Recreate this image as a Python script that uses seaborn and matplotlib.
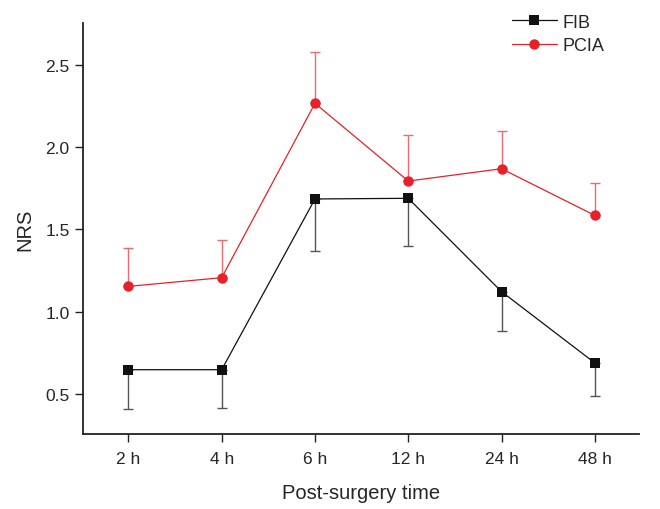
import matplotlib
matplotlib.use("Agg")
import matplotlib.pyplot as plt
import seaborn as sns
import pandas as pd

# values
times = ["2 h", "4 h", "6 h", "12 h", "24 h", "48 h"]
fib_mean = [0.646, 0.646, 1.685, 1.689, 1.121, 0.687]
fib_err = [0.241, 0.235, 0.317, 0.29, 0.241, 0.203]
pcia_mean = [1.153, 1.206, 2.267, 1.794, 1.869, 1.585]
pcia_err = [0.234, 0.231, 0.312, 0.28, 0.231, 0.199]

sns.set_theme(style="ticks")
plt.rcParams["font.family"] = ["Liberation Sans", "DejaVu Sans"]

df = pd.DataFrame({
    "time": times * 2,
    "NRS": fib_mean + pcia_mean,
    "group": ["FIB"] * len(times) + ["PCIA"] * len(times),
})

fig = plt.figure(figsize=(6.6, 5.1), dpi=100)
ax = fig.add_axes([0.1253, 0.1465, 0.8424, 0.8065])

black = "#111111"
red = "#e8202a"

# error bars: FIB downward, PCIA upward
ax.errorbar(times, fib_mean, yerr=[fib_err, [0] * len(times)], fmt="none",
            ecolor="#555555", elinewidth=1.0, capsize=3.5, capthick=1.0, zorder=1)
ax.errorbar(times, pcia_mean, yerr=[[0] * len(times), pcia_err], fmt="none",
            ecolor="#ee6a6f", elinewidth=1.0, capsize=3.5, capthick=1.0, zorder=1)

sns.lineplot(data=df, x="time", y="NRS", hue="group", style="group",
             palette={"FIB": black, "PCIA": red},
             markers={"FIB": "s", "PCIA": "o"}, dashes=False,
             linewidth=0.9, markersize=7.5, markeredgewidth=0,
             sort=False, ax=ax, zorder=3)

ax.set_xlim(-0.49, 5.47)
ax.set_ylim(0.253, 2.756)
ax.set_yticks([0.5, 1.0, 1.5, 2.0, 2.5])
ax.set_xlabel("Post-surgery time", fontsize=14.5, labelpad=12)
ax.set_ylabel("NRS", fontsize=14.5, labelpad=8)
ax.tick_params(axis="both", labelsize=12.5, length=6, width=1.0, color="#222222", direction="out")
ax.tick_params(axis="x", pad=6)
for s in ["left", "bottom"]:
    ax.spines[s].set_linewidth(1.3)
    ax.spines[s].set_color("#222222")
sns.despine(ax=ax)

leg = ax.legend(title=None, frameon=False, fontsize=13, loc="upper left",
                bbox_to_anchor=(0.759, 1.04), handlelength=2.5,
                handletextpad=0.3, labelspacing=0.35, borderaxespad=0)

fig.savefig("out.png", dpi=100)
plt.close(fig)
